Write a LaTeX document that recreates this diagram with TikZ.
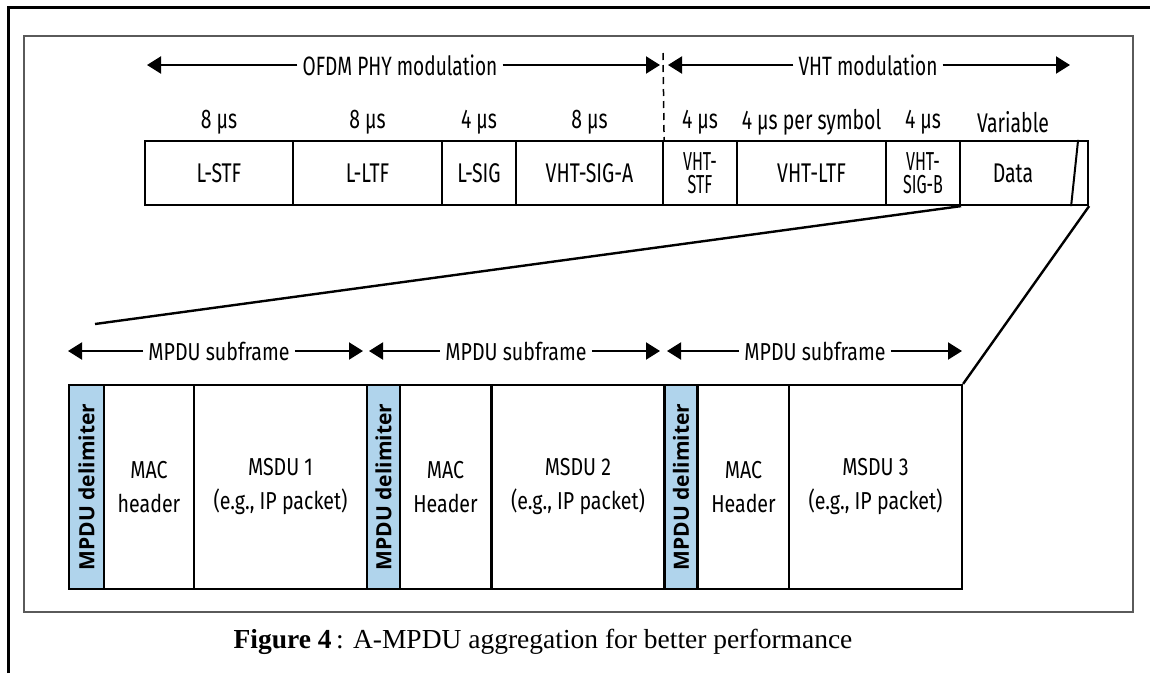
\documentclass[tikz,border=0pt]{standalone}
\usepackage{graphicx}
\usepackage{fontspec}
\setmainfont{Fira Sans}[FakeStretch=0.72]
\newfontfamily\botfont{Fira Sans}[FakeStretch=0.8]
\newfontfamily\delimfont{Open Sans}
\newfontfamily\capfont{Liberation Serif}
\usetikzlibrary{arrows.meta}
\definecolor{delimblue}{RGB}{176,212,236}
\definecolor{framegray}{RGB}{90,90,90}
\newcommand\narrowtxt[1]{\scalebox{0.86}[1]{#1}}
\begin{document}
\begin{tikzpicture}[x=1pt,y=-1pt,
  cell/.style={draw=black, line width=2.2pt, inner sep=0pt, align=center, font=\fontsize{27pt}{30pt}\selectfont},
  toprow/.style={cell, minimum height=64pt},
  twoline/.style={font=\fontsize{26pt}{23pt}\selectfont},
  botrow/.style={cell, minimum height=204pt, font=\botfont\fontsize{24.5pt}{34pt}\selectfont},
  delim/.style={botrow, fill=delimblue, font=\delimfont\bfseries\fontsize{21pt}{24pt}\selectfont},
  dur/.style={inner sep=0pt, font=\fontsize{27pt}{30pt}\selectfont},
  spanlbl/.style={inner sep=5pt, font=\fontsize{26.5pt}{29pt}\selectfont},
  sublbl/.style={spanlbl, font=\botfont\fontsize{24.5pt}{28pt}\selectfont},
  arr/.style={-{Triangle[length=14pt,width=17pt]}, line width=2pt},
  zoomline/.style={line width=2.4pt},
]
\useasboundingbox (0,0) rectangle (1150,673);
% frames
\draw[line width=3pt] (8,673) -- (8,7) -- (1150,7);
\draw[framegray, line width=1.5pt] (24,36) rectangle (1133,612);

% top row of fields
\node[toprow, minimum width=148pt] (lstf)  at (219,173)   {L-STF};
\node[toprow, minimum width=149pt] (lltf)  at (367.5,173) {L-LTF};
\node[toprow, minimum width=74pt]  (lsig)  at (479,173)   {L-SIG};
\node[toprow, minimum width=147pt] (vsiga) at (589.5,173) {VHT-SIG-A};
\node[toprow, minimum width=74pt, twoline] (vstf) at (700,173) {\narrowtxt{VHT-}\\\narrowtxt{STF}};
\node[toprow, minimum width=149pt] (vltf)  at (811.5,173) {VHT-LTF};
\node[toprow, minimum width=74pt, twoline] (vsigb) at (923,173) {\narrowtxt{VHT-}\\\narrowtxt{SIG-B}};
\node[toprow, minimum width=128pt] (data)  at (1024,173)  {\hspace*{-22pt}Data};
\draw[line width=2pt] ([xshift=-11pt]data.north east) -- ([xshift=-18pt]data.south east);

% durations
\node[dur] (d1) at (219,122)   {8 µs};
\node[dur] (d2) at (367.5,122) {8 µs};
\node[dur] (d3) at (479,122)   {4 µs};
\node[dur] (d4) at (589.5,122) {8 µs};
\node[dur] (d5) at (700,122)   {4 µs};
\node[dur] (d6) at (811.5,122) {4 µs per symbol};
\node[dur] (d7) at (923,122)   {4 µs};
\node[dur] (d8) at (1013,122)  {Variable};

% modulation spans
\node[spanlbl] (ofdm) at (400,65) {OFDM PHY modulation};
\node[spanlbl] (vhtm) at (868,65) {VHT modulation};
\coordinate (ofdmL) at (147,65);
\coordinate (ofdmR) at (660,65);
\coordinate (vhtL) at (668,65);
\coordinate (vhtR) at (1070,65);
\draw[arr] (ofdm.west) -- (ofdmL);
\draw[arr] (ofdm.east) -- (ofdmR);
\draw[arr] (vhtm.west) -- (vhtL);
\draw[arr] (vhtm.east) -- (vhtR);
\coordinate (dashtop) at (663,53);
\draw[line width=1.5pt, dash pattern=on 7pt off 5pt] (dashtop) -- (vsiga.north east);

% bottom row
\node[delim, minimum width=35pt] (dl1) at (86.5,487) {\rotatebox{90}{MPDU delimiter}};
\node[botrow, minimum width=90pt] (mac1) at (149,487) {MAC\\header};
\node[botrow, minimum width=173pt] (msdu1) at (280.5,487) {MSDU 1\\(e.g., IP packet)};
\node[delim, minimum width=33pt] (dl2) at (383.5,487) {\rotatebox{90}{MPDU delimiter}};
\node[botrow, minimum width=91pt] (mac2) at (445.5,487) {MAC\\Header};
\node[botrow, minimum width=173pt] (msdu2) at (578,487) {MSDU 2\\(e.g., IP packet)};
\node[delim, minimum width=33pt] (dl3) at (681,487) {\rotatebox{90}{MPDU delimiter}};
\node[botrow, minimum width=91pt] (mac3) at (743.5,487) {MAC\\Header};
\node[botrow, minimum width=173pt] (msdu3) at (875.5,487) {MSDU 3\\(e.g., IP packet)};

% subframe spans
\node[sublbl] (sub1) at (219,351) {MPDU subframe};
\node[sublbl] (sub2) at (516,351) {MPDU subframe};
\node[sublbl] (sub3) at (815,351) {MPDU subframe};
\coordinate (s1L) at (68,351);  \coordinate (s1R) at (363,351);
\coordinate (s2L) at (369,351); \coordinate (s2R) at (660,351);
\coordinate (s3L) at (667,351); \coordinate (s3R) at (962,351);
\draw[arr] (sub1.west) -- (s1L);
\draw[arr] (sub1.east) -- (s1R);
\draw[arr] (sub2.west) -- (s2L);
\draw[arr] (sub2.east) -- (s2R);
\draw[arr] (sub3.west) -- (s3L);
\draw[arr] (sub3.east) -- (s3R);

% zoom lines
\coordinate (zoomL) at (95,324);
\draw[zoomline] (vsigb.south east) -- (zoomL);
\draw[zoomline] (data.south east) -- (msdu3.north east);

% caption
\node[font=\capfont\fontsize{27.5pt}{30pt}\selectfont, inner sep=0pt] (cap) at (543,642)
  {\textbf{Figure 4}\,: A-MPDU aggregation for better performance};
\end{tikzpicture}
\end{document}
